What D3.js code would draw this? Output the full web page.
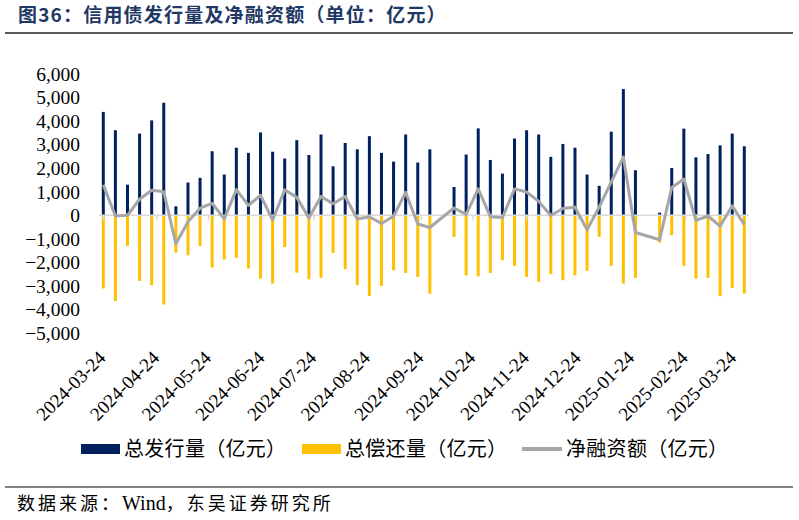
<!DOCTYPE html>
<html>
<head>
<meta charset="utf-8">
<script src="https://cdn.jsdelivr.net/npm/d3@7"></script>
<style>
  body { margin: 0; background: #fff; }
  svg { display: block; }
</style>
</head>
<body>
<svg id="chart" width="799" height="520"></svg>
<script>
// weekly dates (two holiday weeks have no data: 2024-10-06, 2025-02-02)
var weeks = ["2024-03-24", "2024-03-31", "2024-04-07", "2024-04-14", "2024-04-21", "2024-04-28",
    "2024-05-05", "2024-05-12", "2024-05-19", "2024-05-26", "2024-06-02", "2024-06-09",
    "2024-06-16", "2024-06-23", "2024-06-30", "2024-07-07", "2024-07-14", "2024-07-21",
    "2024-07-28", "2024-08-04", "2024-08-11", "2024-08-18", "2024-08-25", "2024-09-01",
    "2024-09-08", "2024-09-15", "2024-09-22", "2024-09-29", "2024-10-13", "2024-10-20",
    "2024-10-27", "2024-11-03", "2024-11-10", "2024-11-17", "2024-11-24", "2024-12-01",
    "2024-12-08", "2024-12-15", "2024-12-22", "2024-12-29", "2025-01-05", "2025-01-12",
    "2025-01-19", "2025-01-26", "2025-02-09", "2025-02-16", "2025-02-23", "2025-03-02",
    "2025-03-09", "2025-03-16", "2025-03-23", "2025-03-30"];

// 总发行量
var issuance = [4390, 3610, 1300, 3470, 4030, 4780, 380, 1390, 1590, 2720, 1730, 2870,
    2650, 3520, 2700, 2410, 3190, 2560, 3430, 2080, 3070, 2800, 3360, 2650,
    2280, 3430, 2240, 2800, 1200, 2580, 3690, 2350, 1770, 3260, 3610, 3430,
    2480, 3030, 2870, 1730, 1250, 3550, 5360, 1910, 110, 2010, 3680, 2460,
    2600, 2970, 3470, 2930];

// 总偿还量
var repayment = [-3110, -3640, -1300, -2790, -2970, -3790, -1590, -1700, -1300, -2220, -1880, -1800,
    -2260, -2690, -2900, -1350, -2440, -2720, -2650, -1600, -2290, -2970, -3430, -3000,
    -2340, -2450, -2620, -3330, -920, -2550, -2590, -2450, -1910, -2150, -2620, -2830,
    -2500, -2760, -2550, -2360, -920, -2150, -2900, -2660, -1160, -850, -2150, -2690,
    -2660, -3440, -3090, -3330];

// 净融资额
var netFinancing = [1290, -30, 0, 680, 1060, 1000, -1210, -280, 300, 510, -150, 1090,
    420, 850, -200, 1080, 760, -120, 800, 490, 800, -160, -60, -350,
    -40, 970, -370, -520, 310, 40, 1120, -60, -100, 1120, 990, 590,
    -10, 290, 350, -620, 350, 1420, 2470, -730, -1040, 1180, 1540, -220,
    -30, -460, 400, -390];

var tickLabels = ["2024-03-24", "2024-04-24", "2024-05-24", "2024-06-24", "2024-07-24",
    "2024-08-24", "2024-09-24", "2024-10-24", "2024-11-24", "2024-12-24",
    "2025-01-24", "2025-02-24", "2025-03-24"];

var yTicks = [6000, 5000, 4000, 3000, 2000, 1000, 0, -1000, -2000, -3000, -4000, -5000];

var seriesNames = ["总发行量（亿元）", "总偿还量（亿元）", "净融资额（亿元）"];
var colors = ["#002060", "#ffc000", "#a6a6a6"];

var svg = d3.select("#chart");
var parse = d3.utcParse("%Y-%m-%d");
var fmt = d3.format(",");

var serif = "'Liberation Serif', 'Times New Roman', serif";
var cjk = "'Noto Sans CJK SC', sans-serif";

var rows = weeks.map(function (w, i) {
    return { date: parse(w), issue: issuance[i], repay: repayment[i], net: netFinancing[i] };
});

var x = d3.scaleTime()
    .domain([parse(weeks[0]), parse(weeks[weeks.length - 1])])
    .range([103.3, 744.3]);

var y = d3.scaleLinear()
    .domain([-5000, 6000])
    .range([333, 74]);

// title
svg.append("text")
    .attr("x", 18)
    .attr("y", 22)
    .attr("font-family", cjk)
    .attr("font-weight", "bold")
    .attr("font-size", "19px")
    .attr("letter-spacing", "1.2px")
    .attr("fill", "#1f3864")
    .text("图36：信用债发行量及净融资额（单位：亿元）");

svg.append("line")
    .attr("x1", 5).attr("x2", 793)
    .attr("y1", 33).attr("y2", 33)
    .attr("stroke", "#222")
    .attr("stroke-width", 1.5);

// y axis labels (no axis line)
svg.append("g")
    .selectAll("text")
    .data(yTicks)
    .enter()
    .append("text")
    .attr("x", 80)
    .attr("y", function (d) { return y(d); })
    .attr("dy", "0.35em")
    .attr("text-anchor", "end")
    .attr("font-family", serif)
    .attr("font-size", "19.5px")
    .attr("fill", "#000")
    .text(function (d) { return fmt(d); });

var plot = svg.append("g");

plot.selectAll("rect.issue")
    .data(rows)
    .enter()
    .append("rect")
    .attr("class", "issue")
    .attr("x", function (d) { return x(d.date) - 1.5; })
    .attr("width", 3)
    .attr("y", function (d) { return y(d.issue); })
    .attr("height", function (d) { return y(0) - y(d.issue); })
    .attr("fill", colors[0]);

plot.selectAll("rect.repay")
    .data(rows)
    .enter()
    .append("rect")
    .attr("class", "repay")
    .attr("x", function (d) { return x(d.date) - 1.5; })
    .attr("width", 3)
    .attr("y", y(0))
    .attr("height", function (d) { return y(d.repay) - y(0); })
    .attr("fill", colors[1]);

// zero axis with month ticks
plot.append("line")
    .attr("x1", 99).attr("x2", 749)
    .attr("y1", y(0)).attr("y2", y(0))
    .attr("stroke", "#d9d9d9")
    .attr("stroke-width", 1.5);

plot.selectAll("line.tick")
    .data(tickLabels)
    .enter()
    .append("line")
    .attr("class", "tick")
    .attr("x1", function (d) { return x(parse(d)); })
    .attr("x2", function (d) { return x(parse(d)); })
    .attr("y1", y(0))
    .attr("y2", y(0) + 5)
    .attr("stroke", "#d9d9d9")
    .attr("stroke-width", 1.5);

var line = d3.line()
    .x(function (d) { return x(d.date); })
    .y(function (d) { return y(d.net); });

plot.append("path")
    .datum(rows)
    .attr("d", line)
    .attr("fill", "none")
    .attr("stroke", colors[2])
    .attr("stroke-width", 3)
    .attr("stroke-linejoin", "round");

// x axis labels, rotated
svg.append("g")
    .selectAll("text")
    .data(tickLabels)
    .enter()
    .append("text")
    .attr("transform", function (d) {
        return "translate(" + (x(parse(d)) + 3.5) + ",359) rotate(-45)";
    })
    .attr("text-anchor", "end")
    .attr("font-family", serif)
    .attr("font-size", "19px")
    .attr("fill", "#000")
    .text(function (d) { return d; });

// legend
var legend = svg.append("g");
var legendX = [81, 302, 522];

legend.append("rect")
    .attr("x", legendX[0]).attr("y", 444)
    .attr("width", 39).attr("height", 10)
    .attr("fill", colors[0]);

legend.append("rect")
    .attr("x", legendX[1]).attr("y", 444)
    .attr("width", 39).attr("height", 10)
    .attr("fill", colors[1]);

legend.append("line")
    .attr("x1", legendX[2]).attr("x2", legendX[2] + 40)
    .attr("y1", 449).attr("y2", 449)
    .attr("stroke", colors[2])
    .attr("stroke-width", 4);

legend.selectAll("text")
    .data(seriesNames)
    .enter()
    .append("text")
    .attr("x", function (d, i) { return legendX[i] + (i == 2 ? 44 : 43); })
    .attr("y", 449)
    .attr("dy", "0.35em")
    .attr("font-family", cjk)
    .attr("font-size", "20px")
    .attr("letter-spacing", "0.3px")
    .attr("fill", "#000")
    .text(function (d) { return d; });

// footer
svg.append("line")
    .attr("x1", 5).attr("x2", 793)
    .attr("y1", 487).attr("y2", 487)
    .attr("stroke", "#595959")
    .attr("stroke-width", 1.5);

var footer = svg.append("text")
    .attr("x", 17)
    .attr("y", 510)
    .attr("font-family", cjk)
    .attr("font-size", "18px")
    .attr("letter-spacing", "3px")
    .attr("fill", "#000");
footer.append("tspan").text("数据来源：");
footer.append("tspan").attr("font-family", serif).attr("font-size", "20px").attr("letter-spacing", "0px").text("Wind");
footer.append("tspan").text("，东吴证券研究所");
</script>
</body>
</html>
